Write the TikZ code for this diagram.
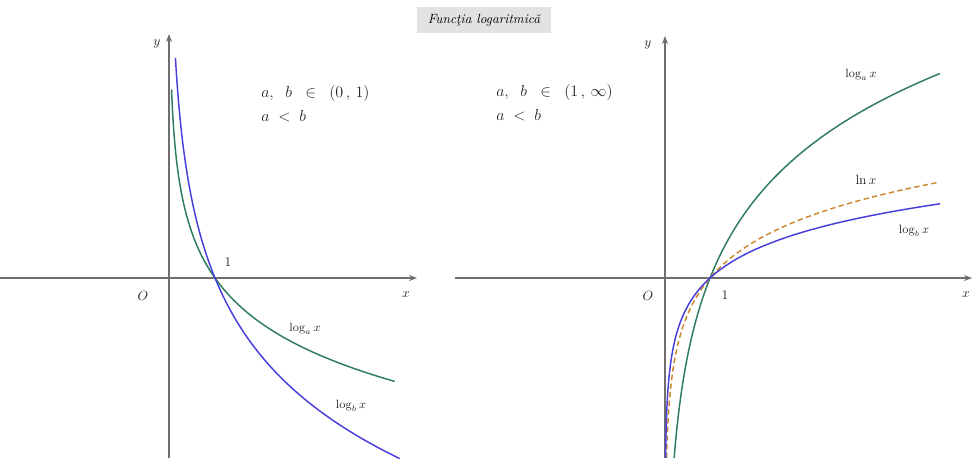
\documentclass[tikz,border=0pt]{standalone}
\usetikzlibrary{arrows.meta}
\definecolor{axisgray}{RGB}{110,110,110}
\definecolor{curvegreen}{RGB}{46,125,90}
\definecolor{curveblue}{RGB}{72,62,220}
\definecolor{curveorange}{RGB}{205,135,45}
\definecolor{titlebg}{RGB}{226,226,226}
\tikzset{
  axisline/.style={draw=axisgray, line width=0.9pt, -{Stealth[length=6pt,width=4.5pt]}},
  curveline/.style={line width=1.1pt},
  lbl/.style={font=\small, inner sep=0pt, text=black!85},
  axlbl/.style={font=\normalsize, inner sep=0pt, text=black!85},
  cond/.style={font=\large, inner sep=0pt, text=black!85, anchor=west},
  titlebox/.style={fill=titlebg, inner xsep=8pt, inner ysep=5pt, font=\normalsize\itshape}
}
\begin{document}
\begin{tikzpicture}[x=0.75pt,y=-0.75pt]
\useasboundingbox (0,0) rectangle (972,458);
\fill[white] (0,0) rectangle (972,458);

% title
\node[titlebox] (title) at (484,20) {Funcţia logaritmică};

% ---------- left plot ----------
\coordinate (LxS) at (0,278);
\coordinate (LxE) at (417,278);
\coordinate (LyS) at (169,458);
\coordinate (LyE) at (169,34);
\draw[axisline] (LxS) -- (LxE);
\draw[axisline] (LyS) -- (LyE);
\node[axlbl] (Ly) at (157,44) {$y$};
\node[axlbl] (Lx) at (406,295) {$x$};
\node[axlbl] (LO) at (143,296) {$O$};
\node[axlbl] (L1) at (228,262) {$1$};
\node[cond] (Lt1) at (261,93) {$a,\;\; b\;\;\in\;\;(0\,,\,1)$};
\node[cond] (Lt2) at (261,116) {$a\;<\;b$};

\draw[curveline, curvegreen] plot[domain=-2.9:1.591, samples=120, variable=\u] ({169+46*exp(\u)},{278+65*\u});
\draw[curveline, curveblue] plot[domain=-1.966:1.613, samples=120, variable=\u] ({169+46*exp(\u)},{278+112*\u});
\node[lbl] (Lla) at (305,329) {$\log_a x$};
\node[lbl] (Llb) at (351,406) {$\log_b x$};

% ---------- right plot ----------
\coordinate (RxS) at (455,278);
\coordinate (RxE) at (972,278);
\coordinate (RyS) at (665,458);
\coordinate (RyE) at (665,36);
\draw[axisline] (RxS) -- (RxE);
\draw[axisline] (RyS) -- (RyE);
\node[axlbl] (Ry) at (648,45) {$y$};
\node[axlbl] (Rx) at (966,295) {$x$};
\node[axlbl] (RO) at (648,296) {$O$};
\node[axlbl] (R1) at (725,295) {$1$};
\node[cond] (Rt1) at (496,92) {$a,\;\; b\;\;\in\;\;(1\,,\,\infty)$};
\node[cond] (Rt2) at (496,115) {$a\;<\;b$};

\draw[curveline, curvegreen] plot[domain=-1.593:1.810, samples=120, variable=\u] ({665+45*exp(\u)},{278-113*\u});
\draw[curveline, curveorange, dash pattern=on 4pt off 2.5pt] plot[domain=-3.396:1.810, samples=150, variable=\u] ({665+45*exp(\u)},{278-53*\u});
\draw[curveline, curveblue] plot[domain=-4.39:1.810, samples=150, variable=\u] ({665+45*exp(\u)},{278-41*\u});
\node[lbl] (Rla) at (861,75) {$\log_a x$};
\node[axlbl] (Rln) at (866,180) {$\ln x$};
\node[lbl] (Rlb) at (914,231) {$\log_b x$};
\end{tikzpicture}
\end{document}
